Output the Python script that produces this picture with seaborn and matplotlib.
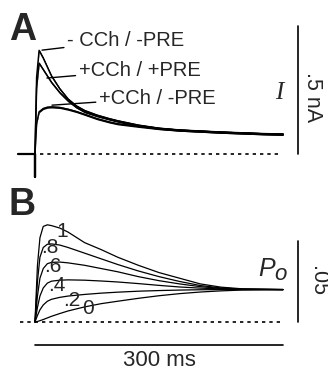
import matplotlib
matplotlib.use("Agg")
from matplotlib import pyplot as plt
import seaborn as sns

# --- panel A: whole-cell currents (nA) ---
t_pre = [-20, 0, 0, 0]
i_pre = [0.0, 0.0, -0.09, 0.0]

t_a = [0, 2, 5, 10, 15, 20, 30, 40, 50, 60, 75, 90, 100, 125, 150, 175, 200, 225, 250, 275, 300]
i_ctrl = [0, 0.30, 0.405, 0.375, 0.340, 0.305, 0.255, 0.215, 0.188, 0.170, 0.152, 0.138, 0.130, 0.113,
          0.101, 0.094, 0.090, 0.086, 0.083, 0.080, 0.078]
i_cch_pre = [0, 0.26, 0.355, 0.330, 0.305, 0.280, 0.240, 0.208, 0.183, 0.165, 0.149, 0.136, 0.128, 0.111,
             0.100, 0.093, 0.089, 0.085, 0.082, 0.079, 0.077]
i_cch_nopre = [0, 0.12, 0.165, 0.178, 0.183, 0.184, 0.182, 0.175, 0.166, 0.155, 0.138, 0.125, 0.118, 0.108,
               0.099, 0.093, 0.089, 0.085, 0.082, 0.079, 0.077]
labels_a = ['- CCh / -PRE', '+CCh / +PRE', '+CCh / -PRE']

# --- panel B: model open probability ---
t_b = [0, 3, 6, 10, 15, 20, 30, 40, 60, 80, 100, 125, 150, 175, 200, 225, 250, 300]
po_curves = {
    '1': [0, 0.035, 0.052, 0.059, 0.060, 0.0595, 0.058, 0.0555, 0.049, 0.0447, 0.040, 0.035, 0.0305,
          0.027, 0.0235, 0.0215, 0.0205, 0.020],
    '.8': [0, 0.025, 0.040, 0.046, 0.048, 0.0482, 0.0475, 0.046, 0.0425, 0.039, 0.0355, 0.0315, 0.028,
           0.025, 0.0225, 0.021, 0.0203, 0.020],
    '.6': [0, 0.016, 0.027, 0.033, 0.036, 0.0368, 0.037, 0.0365, 0.035, 0.033, 0.031, 0.028, 0.0255,
           0.0235, 0.0218, 0.0207, 0.0202, 0.020],
    '.4': [0, 0.009, 0.016, 0.021, 0.024, 0.0252, 0.0258, 0.026, 0.0258, 0.0253, 0.0247, 0.0237, 0.0226,
           0.0216, 0.0209, 0.0204, 0.0201, 0.020],
    '.2': [0, 0.004, 0.0075, 0.0105, 0.0128, 0.0140, 0.0152, 0.0160, 0.0170, 0.0178, 0.0184, 0.0190,
           0.0194, 0.0197, 0.0199, 0.0200, 0.0200, 0.020],
    '0': [0, 0.0003, 0.0008, 0.0015, 0.0025, 0.0035, 0.0052, 0.0068, 0.0093, 0.0113, 0.0128, 0.0146,
          0.0162, 0.0175, 0.0185, 0.0192, 0.0197, 0.020],
}
# label anchor (time ms, Po) for each curve
po_label_pos = {'1': (33, 0.0556), '.8': (18, 0.0458), '.6': (21, 0.0340),
                '.4': (27, 0.0226), '.2': (45, 0.0134), '0': (64, 0.0084)}

sns.set_style('white')
plt.rcParams['font.family'] = ['Liberation Sans', 'DejaVu Sans']

fig = plt.figure(figsize=(3.28, 3.72), dpi=100)
ax_a = fig.add_axes([0, 1 - 185 / 372, 1, 185 / 372])
ax_b = fig.add_axes([0, 0, 1, 182 / 372])
for ax in (ax_a, ax_b):
    ax.set_axis_off()
    ax.set_xlim(-42.3, 354.4)
ax_a.set_ylim(-0.121, 0.602)
ax_b.set_ylim(-0.0309, 0.0815)

dash = (0, (2.0, 2.4))

# panel A
ax_a.plot(t_pre, i_pre, color='k', lw=1.6)
for ys in (i_ctrl, i_cch_pre, i_cch_nopre):
    ax_a.fill_between(t_a, [v - 0.004 for v in ys], [v + 0.004 for v in ys], color='k', lw=0)
    sns.lineplot(x=t_a, y=ys, ax=ax_a, color='k', linewidth=1.1, estimator=None, sort=False)
ax_a.plot([6, 294], [0, 0], color='k', lw=1.2, ls=dash)
ax_a.annotate(labels_a[0], xy=(8.5, 0.406), xytext=(39, 0.445), fontsize=14.5, va='center',
              arrowprops=dict(arrowstyle='-', color='k', lw=1, shrinkA=0, shrinkB=0))
ax_a.annotate(labels_a[1], xy=(14.5, 0.297), xytext=(53, 0.328), fontsize=14.5, va='center',
              arrowprops=dict(arrowstyle='-', color='k', lw=1, shrinkA=0, shrinkB=0))
ax_a.annotate(labels_a[2], xy=(20.6, 0.191), xytext=(77.5, 0.219), fontsize=14.5, va='center',
              arrowprops=dict(arrowstyle='-', color='k', lw=1, shrinkA=0, shrinkB=0))
ax_a.plot([318, 318], [0, 0.5], color='k', lw=1.2)
ax_a.text(336, 0.223, '.5 nA', rotation=270, fontsize=15.5, ha='center', va='center')
ax_a.text(295, 0.238, 'I', family='Liberation Serif', style='italic', fontsize=18,
          ha='center', va='center')
ax_a.text(-14.5, 0.486, 'A', fontsize=27, fontweight='bold', ha='center', va='center')

# panel B
for name, vals in po_curves.items():
    sns.lineplot(x=t_b, y=vals, ax=ax_b, color='k', linewidth=0.9, estimator=None, sort=False)
    lx, ly = po_label_pos[name]
    ax_b.text(lx, ly, name, fontsize=15, ha='center', va='center')
ax_b.plot([-18, 296], [0, 0], color='k', lw=1.2, ls=dash)
ax_b.plot([318, 318], [0, 0.05], color='k', lw=1.2)
ax_b.text(342, 0.0253, '.05', rotation=270, fontsize=15.5, ha='center', va='center')
ax_b.text(270, 0.0284, 'P', style='italic', fontsize=18, ha='left', va='baseline')
ax_b.text(290, 0.0259, 'o', style='italic', fontsize=16, ha='left', va='baseline')
ax_b.plot([0, 300], [-0.0142, -0.0142], color='k', lw=1.2)
ax_b.text(150, -0.0238, '300 ms', fontsize=16, ha='center', va='center')
ax_b.text(-15.7, 0.0722, 'B', fontsize=27, fontweight='bold', ha='center', va='center')

fig.savefig('out.png', dpi=100)
plt.close(fig)
